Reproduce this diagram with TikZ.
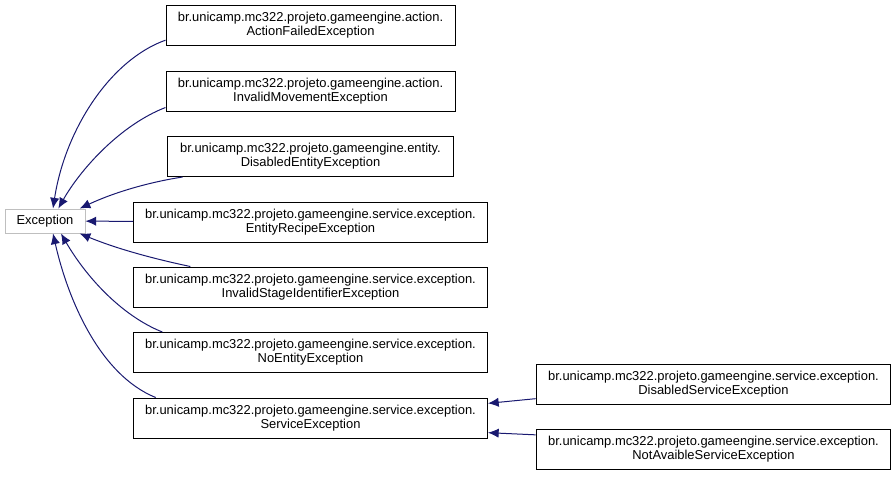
\documentclass[tikz,border=0pt]{standalone}
\usepackage{fontspec}
\setmainfont{Liberation Sans}
\usetikzlibrary{arrows.meta}
\definecolor{edgeblue}{RGB}{25,25,112}
\definecolor{boxgray}{RGB}{191,191,191}
\tikzset{
  cls/.style={draw, line width=0.75pt, fill=white, align=center, minimum height=30pt, inner sep=2pt, font=\fontsize{9.7}{10.6}\selectfont},
  inh/.style={draw=edgeblue, line width=0.75pt, {Latex[length=8pt,width=7pt]}-}
}
\begin{document}
\begin{tikzpicture}[x=0.75pt, y=-0.75pt]
            \useasboundingbox (0,0) rectangle (896,476);
            % Draw nodes
            \node[cls, draw=boxgray, minimum width=60pt, minimum height=18pt] (exc) at (45,221) {Exception};
            \node[cls, minimum width=216.75pt] (afe) at (310.5,25) {br.unicamp.mc322.projeto.gameengine.action.\\ActionFailedException};
            \node[cls, minimum width=216.75pt] (ime) at (310.5,91) {br.unicamp.mc322.projeto.gameengine.action.\\InvalidMovementException};
            \node[cls, minimum width=215pt] (dee) at (310.5,156.5) {br.unicamp.mc322.projeto.gameengine.entity.\\DisabledEntityException};
            \node[cls, minimum width=265.5pt] (ere) at (310.5,222) {br.unicamp.mc322.projeto.gameengine.service.exception.\\EntityRecipeException};
            \node[cls, minimum width=265.5pt] (isi) at (310.5,287) {br.unicamp.mc322.projeto.gameengine.service.exception.\\InvalidStageIdentifierException};
            \node[cls, minimum width=265.5pt] (nee) at (310.5,352.5) {br.unicamp.mc322.projeto.gameengine.service.exception.\\NoEntityException};
            \node[cls, minimum width=265.5pt] (sve) at (310.5,418) {br.unicamp.mc322.projeto.gameengine.service.exception.\\ServiceException};
            \node[cls, minimum width=266pt] (dse) at (713.5,384) {br.unicamp.mc322.projeto.gameengine.service.exception.\\DisabledServiceException};
            \node[cls, minimum width=266pt] (nas) at (713.5,449.5) {br.unicamp.mc322.projeto.gameengine.service.exception.\\NotAvaibleServiceException};

            % Draw connections
            \draw[inh] ([xshift=6pt]exc.north) .. controls (65,130) and (110,60) .. ([yshift=4pt]afe.south west);
            \draw[inh] ([xshift=10pt]exc.north) .. controls (80,170) and (120,125) .. ([yshift=3pt]ime.south west);
            \draw[inh] ([xshift=26pt]exc.north) .. controls (115,192) and (150,182) .. ([xshift=12pt]dee.south west);
            \draw[inh] (exc) -- (ere);
            \draw[inh] ([xshift=26pt]exc.south) .. controls (115,248) and (150,258) .. ([xshift=43pt]isi.north west);
            \draw[inh] ([xshift=12pt]exc.south) .. controls (85,275) and (120,315) .. ([xshift=22pt]nee.north west);
            \draw[inh] ([xshift=6pt]exc.south) .. controls (68,300) and (100,375) .. ([xshift=17pt]sve.north west);
            \draw[inh] ([yshift=11pt]sve.east) -- ([yshift=-11pt]dse.west);
            \draw[inh] ([yshift=-11pt]sve.east) -- ([yshift=11pt]nas.west);
        \end{tikzpicture}
\end{document}
